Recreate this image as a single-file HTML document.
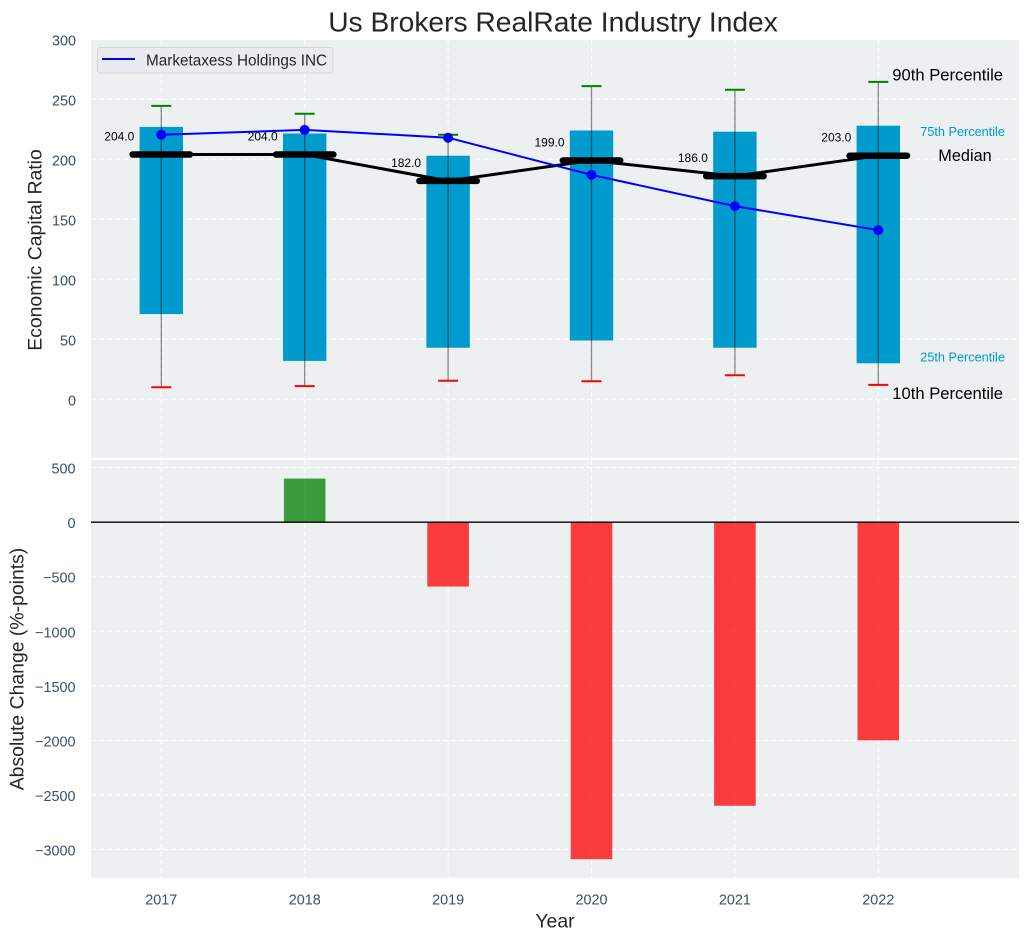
<!DOCTYPE html>
<html lang="en">
<head>
<meta charset="utf-8">
<title>Us Brokers RealRate Industry Index</title>
<style>
html,body{margin:0;padding:0;background:#fff;}
svg{display:block;font-family:"Liberation Sans",Arial,sans-serif;}
</style>
</head>
<body>
<svg id="chart" xmlns="http://www.w3.org/2000/svg" width="1029" height="940" viewBox="0 0 1029 940"></svg>
<script>
const years = [2017, 2018, 2019, 2020, 2021, 2022];
const p90 = [244.5, 238, 220.5, 261, 258, 264.5];
const p75 = [227, 221.5, 203, 224, 223, 228];
const median = [204, 204, 182, 199, 186, 203];
const p25 = [71, 32, 43, 49, 43, 30];
const p10 = [10, 11, 15.5, 15, 20, 12];
const company = [220.5, 224.5, 218, 187, 161, 141];
const change = [0, 400, -590, -3090, -2600, -2000];
const topTicks = [0, 50, 100, 150, 200, 250, 300];
const bottomTicks = [-3000, -2500, -2000, -1500, -1000, -500, 0, 500];
const titleText = 'Us Brokers RealRate Industry Index';
const seriesName = 'Marketaxess Holdings INC';

const NS = 'http://www.w3.org/2000/svg';
const svg = document.getElementById('chart');
const L = 91, R = 1019;
const TT = 40, TB = 457.7, BT = 460, BB = 877.7;
const x = v => 161.3 + (v - 2017) * 143.4;
const yTop = v => 399.3 - v * 1.2;
const yBot = v => 522.2 - v * 0.10906;
const tickColor = '#3c4f66';

function mk(tag, attrs, text) {
  const el = document.createElementNS(NS, tag);
  for (const k in attrs) el.setAttribute(k, attrs[k]);
  if (text !== undefined) el.textContent = text;
  svg.appendChild(el);
  return el;
}
let el;

el = mk('text', {x: 553, y: 31.5, 'font-size': 28.2, 'text-anchor': 'middle', fill: '#262626'}, titleText);



el = mk('rect', {x: L, y: TT, width: R - L, height: TB - TT, fill: '#ecf0f1'});


el = mk('rect', {x: L, y: BT, width: R - L, height: BB - BT, fill: '#ecf0f1'});



topTicks.forEach(t => {
  el = mk('line', {x1: L, x2: R, y1: yTop(t), y2: yTop(t), stroke: '#fff', 'stroke-width': 1, 'stroke-dasharray': '5 3'});
  
  
  el = mk('text', {x: 76, y: yTop(t) + 6, 'font-size': 14.4, 'text-anchor': 'end', fill: tickColor}, String(t));
  
  
});
bottomTicks.forEach(t => {
  el = mk('line', {x1: L, x2: R, y1: yBot(t), y2: yBot(t), stroke: '#fff', 'stroke-width': 1, 'stroke-dasharray': '5 3'});
  
  
  el = mk('text', {x: 75.5, y: yBot(t) + 6, 'font-size': 14.4, 'text-anchor': 'end', fill: tickColor}, String(t).replace('-', '\u2212'));
  
  
});
years.forEach(yr => {
  el = mk('line', {x1: x(yr), x2: x(yr), y1: TT, y2: TB, stroke: '#fff', 'stroke-width': 1, 'stroke-dasharray': '5 3'});
  
  
  el = mk('line', {x1: x(yr), x2: x(yr), y1: BT, y2: BB, stroke: '#fff', 'stroke-width': 1, 'stroke-dasharray': '5 3'});
  
  
  el = mk('text', {x: x(yr), y: 904.3, 'font-size': 14.4, 'text-anchor': 'middle', fill: tickColor}, String(yr));
  
  
});

/* Percentile boxes */
years.forEach((yr, i) => {
  el = mk('rect', {x: x(yr) - 21.7, y: yTop(p75[i]), width: 43.4, height: yTop(p25[i]) - yTop(p75[i]), fill: '#009acd'});
  
  
});
/* Whiskers */
years.forEach((yr, i) => {
  el = mk('line', {x1: x(yr), x2: x(yr), y1: yTop(p90[i]), y2: yTop(p10[i]), stroke: '#000', 'stroke-opacity': 0.45, 'stroke-width': 1.3});
  
  
  el = mk('line', {x1: x(yr) - 10, x2: x(yr) + 10, y1: yTop(p90[i]), y2: yTop(p90[i]), stroke: '#008000', 'stroke-width': 2});
  
  
  el = mk('line', {x1: x(yr) - 10, x2: x(yr) + 10, y1: yTop(p10[i]), y2: yTop(p10[i]), stroke: '#ff0000', 'stroke-width': 2});
  
  
});
/* Median connecting line and thick bars */
el = mk('polyline', {points: years.map((yr, i) => x(yr) + ',' + yTop(median[i])).join(' '), fill: 'none', stroke: '#000', 'stroke-width': 3, 'stroke-linejoin': 'round'});


years.forEach((yr, i) => {
  el = mk('line', {x1: x(yr) - 28.7, x2: x(yr) + 28.7, y1: yTop(median[i]), y2: yTop(median[i]), stroke: '#000', 'stroke-width': 6.5, 'stroke-linecap': 'round'});
  
  
  el = mk('text', {x: x(yr) - 27, y: yTop(median[i]) - 14, 'font-size': 12, 'text-anchor': 'end', fill: '#000'}, median[i].toFixed(1));
  
  
});
/* Company series */
el = mk('polyline', {points: years.map((yr, i) => x(yr) + ',' + yTop(company[i])).join(' '), fill: 'none', stroke: '#0000ff', 'stroke-width': 2, 'stroke-linejoin': 'round'});


years.forEach((yr, i) => {
  el = mk('circle', {cx: x(yr), cy: yTop(company[i]), r: 5, fill: '#0000ff'});
  
  
});

/* Percentile annotations, positioned from the last year's values */
const last = years.length - 1;
const lastX = x(years[last]);
el = mk('text', {x: lastX + 14, y: yTop(p90[last]) - 1.5, 'font-size': 16.6, fill: '#000'}, '90th Percentile');


el = mk('text', {x: lastX + 42, y: yTop(p75[last]) + 10.5, 'font-size': 12.7, fill: '#009acd'}, '75th Percentile');


el = mk('text', {x: lastX + 60, y: yTop(median[last]) + 5.5, 'font-size': 16.3, fill: '#000'}, 'Median');


el = mk('text', {x: lastX + 42, y: yTop(p25[last]) - 2, 'font-size': 12.7, fill: '#009acd'}, '25th Percentile');


el = mk('text', {x: lastX + 14, y: yTop(p10[last]) + 14, 'font-size': 16.6, fill: '#000'}, '10th Percentile');



/* Legend */
el = mk('rect', {x: 97.5, y: 47.5, width: 235.5, height: 25.5, rx: 3, fill: '#eaebf1', stroke: '#d4d5d9', 'stroke-width': 1});


el = mk('line', {x1: 102, x2: 135, y1: 59, y2: 59, stroke: '#0000ff', 'stroke-width': 2});


el = mk('text', {x: 146, y: 65.5, 'font-size': 15.3, fill: '#262626'}, seriesName);



/* Change bars */
years.forEach((yr, i) => {
  if (change[i] === 0) return;
  const y0 = Math.min(yBot(0), yBot(change[i]));
  const h = Math.abs(yBot(change[i]) - yBot(0));
  el = mk('rect', {x: x(yr) - 20.8, y: y0, width: 41.6, height: h, fill: change[i] > 0 ? '#008000' : '#ff0000', 'fill-opacity': 0.75});
  
  
});
el = mk('line', {x1: L, x2: R, y1: yBot(0), y2: yBot(0), stroke: '#000', 'stroke-width': 1.3});



/* Axis titles */
el = mk('text', {x: 555, y: 927.5, 'font-size': 19.4, 'text-anchor': 'middle', fill: '#262626'}, 'Year');


el = mk('text', {x: 0, y: 0, transform: 'translate(41.5,250) rotate(-90)', 'font-size': 19.4, 'text-anchor': 'middle', fill: '#262626'}, 'Economic Capital Ratio');


el = mk('text', {x: 0, y: 0, transform: 'translate(23.5,669) rotate(-90)', 'font-size': 19.4, 'text-anchor': 'middle', fill: '#262626'}, 'Absolute Change (%-points)');


</script>
</body>
</html>
